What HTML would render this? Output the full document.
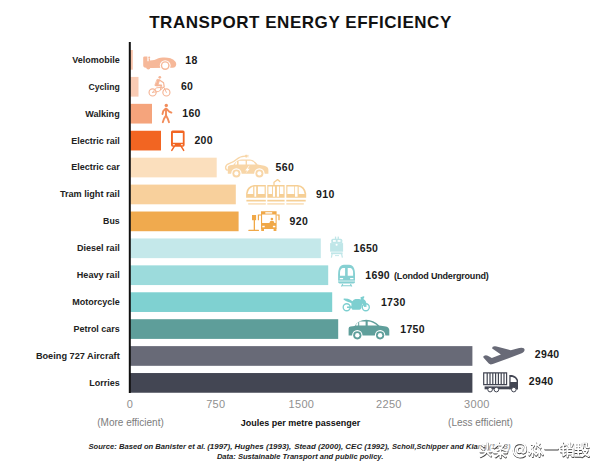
<!DOCTYPE html>
<html><head><meta charset="utf-8"><style>
html,body{margin:0;padding:0;background:#fff;}
body{width:602px;height:470px;overflow:hidden;position:relative;}
svg{position:absolute;left:0;top:0;}
text{font-family:"Liberation Sans",sans-serif;}
.title{font-size:17px;font-weight:bold;fill:#111;letter-spacing:0.55px;}
.lab{font-size:9.2px;font-weight:bold;fill:#222;}
.num{font-size:10.5px;font-weight:bold;fill:#1a1a1a;letter-spacing:0.35px;}
.sub{font-size:9px;font-weight:bold;letter-spacing:-0.2px;}
.tick{font-size:11px;fill:#909090;letter-spacing:0.3px;}
.eff{font-size:10px;fill:#7c7c7c;}
.jpm{font-size:9px;font-weight:bold;fill:#111;}
.src{font-size:7.65px;font-weight:bold;font-style:italic;fill:#1e1e1e;}
</style></head><body>
<svg width="602" height="470" viewBox="0 0 602 470">
<text class="title" x="300.5" y="28.3" text-anchor="middle">TRANSPORT ENERGY EFFICIENCY</text>
<rect x="130" y="50.00" width="2.80" height="19.7" fill="#f9c4aa"/>
<text class="lab" x="119.7" y="62.75" text-anchor="end" textLength="47.4" lengthAdjust="spacingAndGlyphs">Velomobile</text>
<text class="num" x="185.3" y="63.55">18</text>
<g fill="#f6b899">
<path d="M143.2,57.6 Q143.3,56.4 144.6,56.4 H147.4 V61.2 H148.6 V58.4 H150 V60.4 C153,60.4 155.8,59.6 157.8,58.4 C160.5,57.4 166.5,56.9 170.5,58.3 C174.5,59.9 176.6,62.5 176.2,64.8 C175.8,67 174.6,67.6 172.8,67.7 L150.5,68 C148,68.3 145,68 143.8,67 Q143.2,66.3 143.2,65.3 Z"/>
<circle cx="149.2" cy="57.4" r="1"/>
<circle cx="165.2" cy="65.6" r="5.4" fill="#fff"/>
<circle cx="165.2" cy="65.6" r="4.4"/>
<circle cx="165.2" cy="65.6" r="3" fill="#fff"/>
<path d="M146.2,67.6 Q146.4,69.6 148.3,69.6 Q150.2,69.6 150.4,67.6 Z"/>
</g>
<rect x="130" y="76.92" width="8.50" height="19.7" fill="#f9cbb4"/>
<text class="lab" x="119.7" y="89.67" text-anchor="end" textLength="31.2" lengthAdjust="spacingAndGlyphs">Cycling</text>
<text class="num" x="180.9" y="90.47">60</text>
<g fill="none" stroke="#f5b596" stroke-linecap="round" stroke-linejoin="round">
<circle cx="152.6" cy="92.4" r="3.55" stroke-width="1.15"/>
<circle cx="166.4" cy="92.4" r="3.55" stroke-width="1.15"/>
<path d="M152.6,92.4 L156.4,87.8 L163.8,87.2 L166.4,92.4 M152.6,92.4 L158.8,91.4 L163.8,87.2" stroke-width="0.95"/>
<path d="M157.4,79.4 L159.8,79.8 L157.6,85.8 L155.2,85.4 Z" fill="#f5b596" stroke-width="0.8"/>
<path d="M159.8,80.2 L163.6,82.8 L164.2,86.6" stroke-width="1.15"/>
<path d="M156,85.2 L161.2,85.4" stroke-width="1.9"/>
<path d="M161.2,85.6 L160.6,89.6" stroke-width="1.2"/>
<circle cx="159.8" cy="77.3" r="1.35" fill="#f5b596" stroke="none"/>
</g>
<rect x="130" y="103.84" width="22.00" height="19.7" fill="#f5a47c"/>
<text class="lab" x="119.7" y="116.59" text-anchor="end" textLength="34.4" lengthAdjust="spacingAndGlyphs">Walking</text>
<text class="num" x="182.2" y="117.39">160</text>
<g fill="none" stroke="#f28c5a" stroke-linecap="round" stroke-linejoin="round" stroke-width="1.9">
<circle cx="166.3" cy="105.4" r="1.7" fill="#f28c5a" stroke="none"/>
<path d="M166,108.6 L166,115.4"/>
<path d="M165.4,108.8 L163.2,111.2 L162.5,114"/>
<path d="M166.6,108.8 L169.2,111.6 L171.4,112.6"/>
<path d="M166,115.4 L164,118.8 L162.8,122.2"/>
<path d="M166,115.4 L167.8,118.8 L169,122.2"/>
</g>
<rect x="130" y="130.76" width="31.00" height="19.7" fill="#f26522"/>
<text class="lab" x="119.7" y="143.51" text-anchor="end" textLength="48.4" lengthAdjust="spacingAndGlyphs">Electric rail</text>
<text class="num" x="194.4" y="144.31">200</text>
<g fill="#f26522">
<path fill-rule="evenodd" d="M172.6,130.5 H183 Q184.6,130.5 184.6,132.1 V145 Q184.6,146.7 183,146.7 H172.6 Q171,146.7 171,145 V132.1 Q171,130.5 172.6,130.5 Z M172.9,133.1 V142.7 H182.8 V133.1 Z"/>
<rect x="172.9" y="144.2" width="1.9" height="1.1" fill="#fff"/>
<rect x="180.9" y="144.2" width="1.9" height="1.1" fill="#fff"/>
<path d="M174.3,146.4 L171.8,150.4 M181.2,146.4 L183.7,150.4" stroke="#f26522" stroke-width="1.5" stroke-linecap="round"/>
</g>
<rect x="130" y="157.68" width="86.70" height="19.7" fill="#fbdfbd"/>
<text class="lab" x="119.7" y="170.43" text-anchor="end" textLength="48.4" lengthAdjust="spacingAndGlyphs">Electric car</text>
<text class="num" x="275.5" y="171.23">560</text>
<g fill="#f8d6a8">
<path d="M227.8,173.8 V167.6 Q227.8,165.6 230,165.2 L233.4,164.8 Q237,159.6 242,159.6 H250 Q254,159.8 257.6,164.6 L264.4,165.8 Q268.4,166.8 268.4,170 V173.8 Z"/>
<path d="M234.8,164.6 L237,161 V164.6 Z M238.6,164.6 V160.8 H245.6 V164.6 Z M247,164.6 V160.8 H251 Q253.8,161.2 255.6,164.6 Z" fill="#fff"/>
<path d="M249,165.8 L245.2,170.4 H247.4 L245.6,173.6 L249.8,168.8 H247.6 L249.6,165.8 Z" fill="#fff"/>
<circle cx="236.4" cy="173.4" r="5.2" fill="#fff"/>
<circle cx="259.4" cy="173.4" r="5.2" fill="#fff"/>
<circle cx="236.4" cy="173.4" r="4"/>
<circle cx="259.4" cy="173.4" r="4"/>
<circle cx="236.4" cy="173.4" r="2.1" fill="#fff"/>
<circle cx="259.4" cy="173.4" r="2.1" fill="#fff"/>
<path d="M227.8,170.4 Q225.4,169.6 225.6,167.2 Q226,164.6 229.6,163.4 Q233.6,162 236.4,159.4 Q240,156.4 245.4,156.2" fill="none" stroke="#f8d6a8" stroke-width="1.35"/>
<rect x="245" y="154.8" width="2.6" height="2.6" rx="0.8"/>
<path d="M247.4,155.4 H248.8 M247.4,156.8 H248.8" stroke="#f8d6a8" stroke-width="0.6"/>
</g>
<rect x="130" y="184.60" width="105.80" height="19.7" fill="#f8d09c"/>
<text class="lab" x="119.7" y="197.35" text-anchor="end" textLength="59.8" lengthAdjust="spacingAndGlyphs">Tram light rail</text>
<text class="num" x="316.1" y="198.15">910</text>
<g fill="#f6cf95">
<path fill-rule="evenodd" d="M246.1,197.8 V193.4 Q246.6,186.4 254,185.1 H265.8 V197.8 Z
M247.5,194 Q248.4,188.4 253.2,186.5 V194 Z M254.4,186.5 V196.8 H256.2 V186.5 Z M257.9,186.5 V194 H264.6 V186.5 Z"/>
<path fill-rule="evenodd" d="M267.3,185.1 H284.6 V197.8 H267.3 Z
M268.4,186.5 V193.9 H272 V186.5 Z M272.9,186.5 V196.8 H275 V186.5 Z M276.9,186.5 V196.8 H279 V186.5 Z M279.8,186.5 V193.9 H283.4 V186.5 Z"/>
<path fill-rule="evenodd" d="M286.3,185.1 H297.6 Q305.2,186 306.2,193.6 V197.8 H286.3 Z
M287.4,186.5 V193.9 H294.3 V186.5 Z M295,186.5 V196.8 H297.6 V186.5 Z M298.7,186.6 Q303.6,188 304.6,194 H298.7 Z"/>
<path d="M274,184.8 V182.2 L277.6,179.6 L279.8,181.6" fill="none" stroke="#f6cf95" stroke-width="1.3" stroke-linejoin="round" stroke-linecap="round"/>
<rect x="246.4" y="199.8" width="19.4" height="1.7"/>
<rect x="267.3" y="199.8" width="17.3" height="1.7"/>
<rect x="286.3" y="199.8" width="19.4" height="1.7"/>
<rect x="248.2" y="203.2" width="17.6" height="1.4" opacity="0.75"/>
<rect x="267.3" y="203.2" width="17.3" height="1.4" opacity="0.75"/>
<rect x="286.3" y="203.2" width="17.5" height="1.4" opacity="0.75"/>
</g>
<rect x="130" y="211.52" width="108.60" height="19.7" fill="#f0aa4e"/>
<text class="lab" x="119.7" y="224.27" text-anchor="end" textLength="16.6" lengthAdjust="spacingAndGlyphs">Bus</text>
<text class="num" x="289.5" y="225.07">920</text>
<g fill="#f0a848">
<rect x="252" y="215" width="4.1" height="5.2"/>
<rect x="253.7" y="219.5" width="1.3" height="10.6"/>
<rect x="248.3" y="229.7" width="10.7" height="1.3" rx="0.5"/>
<path fill-rule="evenodd" d="M261,211.2 H276.6 V229 H261 Z M262.1,214.6 V223 H275.6 V214.6 Z"/>
<rect x="265.3" y="212.2" width="6.9" height="1.4" fill="#fff"/>
<rect x="262.3" y="225.8" width="2.4" height="1.5" fill="#fff"/>
<rect x="272.9" y="225.8" width="2.4" height="1.5" fill="#fff"/>
<rect x="261.2" y="228.6" width="2.8" height="2.4"/>
<rect x="273.6" y="228.6" width="2.8" height="2.4"/>
<path d="M261,215 H258.4 V220.2" fill="none" stroke="#f0a848" stroke-width="1.2"/>
<path d="M276.6,215 H279 V220.2" fill="none" stroke="#f0a848" stroke-width="1.2"/>
<circle cx="271.9" cy="219" r="1.3"/>
<path d="M269.4,223 Q269.6,220.8 271.9,220.8 Q274.2,220.8 274.4,223 Z"/>
</g>
<rect x="130" y="238.44" width="190.80" height="19.7" fill="#c4e8ea"/>
<text class="lab" x="119.7" y="251.19" text-anchor="end" textLength="42.8" lengthAdjust="spacingAndGlyphs">Diesel rail</text>
<text class="num" x="353.5" y="251.99">1650</text>
<g fill="#bfe6e8">
<rect x="334.9" y="236.6" width="1.3" height="2.4"/>
<rect x="337.6" y="236.6" width="1.3" height="2.4"/>
<path d="M331.3,243.2 V240.2 Q331.3,238.7 332.8,238.7 H340.8 Q342.3,238.7 342.3,240.2 V243.2 Z"/>
<rect x="333" y="240.1" width="2.8" height="1.7" fill="#fff"/>
<rect x="337.6" y="240.1" width="2.9" height="1.7" fill="#fff"/>
<rect x="330.1" y="243.1" width="13" height="8.6"/>
<circle cx="336.6" cy="244.8" r="1.05" fill="#fff"/>
<rect x="331" y="252.4" width="11.6" height="1.8"/>
<path d="M332.1,254 L331.4,257.6 M341.6,254 L342.4,257.6" stroke="#bfe6e8" stroke-width="1.2"/>
<rect x="335" y="255.2" width="4" height="0.9"/>
</g>
<rect x="130" y="265.36" width="198.20" height="19.7" fill="#9cdbdc"/>
<text class="lab" x="119.7" y="278.11" text-anchor="end" textLength="42.9" lengthAdjust="spacingAndGlyphs">Heavy rail</text>
<text class="num" x="365.3" y="278.91">1690<tspan class="sub" dx="4">(Londod Underground)</tspan></text>
<g fill="#86d0d2">
<path d="M338.1,282 V274 Q338.1,267.6 341.4,265.4 Q342.4,264.8 344,264.8 H349.2 Q350.8,264.8 351.8,265.4 Q355,267.6 355,274 V282 Q355,283.4 353.4,283.4 H339.6 Q338.1,283.4 338.1,282 Z"/>
<path d="M340,275.7 V272.4 Q340.2,268.6 342.8,268 H345.1 V275.7 Z M347.7,268 H350.4 Q353,268.6 353.1,272.4 V275.7 H347.7 Z" fill="#fff"/>
<rect x="339.7" y="277.9" width="3.5" height="1.4" rx="0.6" fill="#fff"/>
<rect x="350" y="277.9" width="3.5" height="1.4" rx="0.6" fill="#fff"/>
<rect x="338.1" y="280.4" width="16.9" height="1.3" fill="#fff" opacity="0.55"/>
<path d="M342.8,284 L341.4,286.6 M350.4,284 L351.8,286.6 M341.6,285.8 H351.6" stroke="#86d0d2" stroke-width="1.1" fill="none"/>
</g>
<rect x="130" y="292.28" width="202.20" height="19.7" fill="#7fd1d1"/>
<text class="lab" x="119.7" y="305.03" text-anchor="end" textLength="47.5" lengthAdjust="spacingAndGlyphs">Motorcycle</text>
<text class="num" x="380.9" y="305.83">1730</text>
<g fill="#7dcfd0">
<circle cx="346.7" cy="307.2" r="3.5" fill="none" stroke="#7dcfd0" stroke-width="1.35"/>
<circle cx="365.8" cy="307.2" r="3.5" fill="none" stroke="#7dcfd0" stroke-width="1.35"/>
<path d="M343.4,299 Q343.5,298.4 344.2,298.4 L347.9,298.7 Q350.4,299.6 352.4,301.2 Q353.4,299.4 355.6,299.1 L358.9,299 Q360.4,299.1 361,299.6 L360.4,297.6 Q360.6,296.9 361.3,296.9 L363.7,296.3 Q364.6,296.4 364.3,297.3 L363.4,299 Q365.4,300 366.1,302 L366.6,306.8 L364.3,307 L362.2,303.6 Q361.8,306 361.4,308 Q360.8,309.7 359.5,309.7 H353 Q351.8,309.7 351.6,308.2 L347,308.1 V306.6 L351.4,306.2 L351.4,303.2 Q349.8,302.4 348.2,302 Q345.6,301 343.8,299.8 Z"/>
</g>
<rect x="130" y="319.20" width="208.20" height="19.7" fill="#5e9e9a"/>
<text class="lab" x="119.7" y="331.95" text-anchor="end" textLength="46.2" lengthAdjust="spacingAndGlyphs">Petrol cars</text>
<text class="num" x="400.2" y="332.75">1750</text>
<g fill="#5f9f9b">
<path d="M348.6,335.6 V328.4 Q348.6,326.8 350.6,326.6 L354.6,326 Q358.6,319.8 366.2,319.8 Q373.6,319.9 379.2,325.6 L386,326.4 Q389.3,327.2 389.3,330.4 V335.6 Z"/>
<path d="M355.4,325.6 L358.2,322 V325.6 Z M359.2,325.6 V321.4 H365.6 V325.6 Z M367.7,325.6 V321.4 Q373.2,321.6 377.2,325.6 Z" fill="#fff"/>
<circle cx="357.3" cy="335.3" r="5.2" fill="#fff"/>
<circle cx="380.1" cy="335.3" r="5.2" fill="#fff"/>
<circle cx="357.3" cy="335.3" r="4.1"/>
<circle cx="380.1" cy="335.3" r="4.1"/>
<circle cx="357.3" cy="335.3" r="2.2" fill="#fff"/>
<circle cx="380.1" cy="335.3" r="2.2" fill="#fff"/>
</g>
<rect x="130" y="346.12" width="342.40" height="19.7" fill="#686a77"/>
<text class="lab" x="119.7" y="358.87" text-anchor="end" textLength="83.8" lengthAdjust="spacingAndGlyphs">Boeing 727 Aircraft</text>
<text class="num" x="534.8" y="358.27">2940</text>
<path fill="#686a77" d="M492.2,348.6 Q491.8,346.4 494.6,346.2 Q495.6,346.1 496.6,346.4 L510.8,350.2 L519.2,347.9 Q524.4,346.9 524.6,349.8 Q524.6,352.2 520.4,353.8 L492.8,364 Q490,365 488.8,363.6 L483.6,357.8 Q482.6,356 485,355.4 Q486.6,355.1 487.8,355.8 L491.8,358 L500.9,354.6 Z"/>
<rect x="130" y="373.04" width="342.40" height="19.7" fill="#434653"/>
<text class="lab" x="119.7" y="385.79" text-anchor="end" textLength="30.5" lengthAdjust="spacingAndGlyphs">Lorries</text>
<text class="num" x="528.8" y="385.19">2940</text>
<g fill="#434653">
<path fill-rule="evenodd" d="M483.1,372.2 H507.2 V385.2 H483.1 Z M484.3,373.4 V384 H506 V373.4 Z"/>
<rect x="486.6" y="373" width="1.2" height="11.5"/>
<rect x="489.4" y="373" width="1.2" height="11.5"/>
<rect x="492.2" y="373" width="1.2" height="11.5"/>
<rect x="495" y="373" width="1.2" height="11.5"/>
<rect x="497.8" y="373" width="1.2" height="11.5"/>
<rect x="500.6" y="373" width="1.2" height="11.5"/>
<rect x="503.4" y="373" width="1.2" height="11.5"/>
<path fill-rule="evenodd" d="M509.3,375 H512 Q516.6,376 518,380 V389.2 H509.3 Z M510.6,377 V382 H516.6 V380.6 Q515.6,377.6 512.4,377 Z"/>
<rect x="484.6" y="386.4" width="33.4" height="2.9"/>
<circle cx="490.1" cy="389.6" r="2.3" fill="#fff" stroke="#434653" stroke-width="1"/>
<circle cx="496.4" cy="389.6" r="2.3" fill="#fff" stroke="#434653" stroke-width="1"/>
<circle cx="513.8" cy="389.6" r="2.3" fill="#fff" stroke="#434653" stroke-width="1"/>
</g>
<rect x="128.8" y="42" width="2" height="351" fill="#111"/>
<text class="tick" x="130" y="408.2" text-anchor="middle">0</text>
<text class="tick" x="215.8" y="408.2" text-anchor="middle">750</text>
<text class="tick" x="301.4" y="408.2" text-anchor="middle">1500</text>
<text class="tick" x="388.9" y="408.2" text-anchor="middle">2250</text>
<text class="tick" x="476.9" y="408.2" text-anchor="middle">3000</text>
<text class="eff" x="130.5" y="426" text-anchor="middle">(More efficient)</text>
<text class="jpm" x="300.6" y="426" text-anchor="middle">Joules per metre passenger</text>
<text class="eff" x="480.5" y="426" text-anchor="middle">(Less efficient)</text>
<text class="src" y="448.5" x="88.4" textLength="117" lengthAdjust="spacingAndGlyphs">Source: Based on Banister et al.</text>
<text class="src" y="448.5" x="207.2" textLength="84" lengthAdjust="spacingAndGlyphs">(1997), Hughes (1993),</text>
<text class="src" y="448.5" x="294.2" textLength="95.3" lengthAdjust="spacingAndGlyphs">Stead (2000), CEC (1992),</text>
<text class="src" y="448.5" x="392" textLength="118.5" lengthAdjust="spacingAndGlyphs">Scholl,Schipper and Kiang (1993)</text>
<text class="src" x="216.9" y="459.3" textLength="166.5" lengthAdjust="spacingAndGlyphs">Data: Sustainable Transport and public policy.</text>
<rect x="478.2" y="440" width="34" height="12" fill="#fff" opacity="0.55"/>
<g fill="none" stroke-linecap="round" stroke-linejoin="round">
<g stroke="#2a2a2a" stroke-width="2.0" transform="translate(0.3,0.8)" opacity="0.9"><path transform="translate(480,442.2) scale(1.0)" d="M2,2.6 L3.8,4.2 M1.6,5.8 L3.6,7.4 M0.4,9.4 H11.2 M7.2,0.6 V6.6 Q6.8,11.6 0.6,14.2 M7.6,10.6 L10.8,13.6"/>
<path transform="translate(493,442.2) scale(1.06)" d="M5.4,0.4 Q4,3 1.2,5 M4.6,2.4 H10 Q8,6 2.4,8.4 M5.6,4.6 Q9,7.4 13.4,8.2 M1,9.8 H13 M7,7.6 V14.4 M6,10.8 L2.4,13.6 M8.2,10.8 L11.8,13.6"/>
<path transform="translate(512.6,442.4) scale(1.0)" d="M9.6,6 Q9,4.2 7.2,4.2 Q4.6,4.4 4.6,7.6 Q4.8,10 6.8,10 Q9,9.8 9.6,6 L9.2,9.2 Q9.4,10.6 11,10.4 Q13.4,9.6 13.2,6.6 Q12.8,1 7.4,0.8 Q1,1 0.8,7.6 Q1,14 7.2,14.4 Q10.2,14.4 12,13"/>
<path transform="translate(528.8,442.2) scale(1.0)" d="M7,0.2 V5.8 M2.8,2 H5.6 L3,5.8 M8.4,2.6 L11.6,5.4 M10.6,1.4 L9,3 M3.8,7.2 V14 M0.4,9 H2.6 L0.4,12.6 M4.8,9.2 L6.8,12.4 M10.4,7.2 V14 M7.6,9 H9.6 L7.4,12.6 M11.4,9.2 L13.8,12.4"/>
<path transform="translate(543.8,442.2) scale(1.0)" d="M1.2,6.4 H13.8"/>
<path transform="translate(560.2,442.2) scale(1.0)" d="M2.6,0.4 L0.6,4 M1.6,2.8 H5 M1,6.2 H5 M0.6,9.4 H5 M3,3 V13.4 L5.2,11.8 M9.6,0.4 V5 M7.4,1.8 L8.2,4.2 M12.2,1.4 L11.4,4 M7.2,6.2 V14.4 M7.2,6.2 H12.8 V14 L11.6,13.6 M7.2,9 H12.8 M7.2,11.6 H12.8"/>
<path transform="translate(574.6,442.2) scale(1.0)" d="M1,1.4 V7 H6.4 V1.4 Z M3.7,1 V7 M1,4.2 H6.4 M0.6,10 H6.6 M3.6,8 V13.6 M0.4,13.8 H6.8 L8,13 M8.4,0.8 V3.6 Q8.4,5.6 7.4,6.4 M8.4,0.8 H11.8 V4.6 Q12,5.6 13.8,5.2 M8,8 H12.8 Q11.4,12 7.4,14.2 M8.8,9.6 Q10.6,12.6 14,14"/></g>
<g stroke="#ffffff" stroke-width="1.7"><path transform="translate(480,442.2) scale(1.0)" d="M2,2.6 L3.8,4.2 M1.6,5.8 L3.6,7.4 M0.4,9.4 H11.2 M7.2,0.6 V6.6 Q6.8,11.6 0.6,14.2 M7.6,10.6 L10.8,13.6"/>
<path transform="translate(493,442.2) scale(1.06)" d="M5.4,0.4 Q4,3 1.2,5 M4.6,2.4 H10 Q8,6 2.4,8.4 M5.6,4.6 Q9,7.4 13.4,8.2 M1,9.8 H13 M7,7.6 V14.4 M6,10.8 L2.4,13.6 M8.2,10.8 L11.8,13.6"/>
<path transform="translate(512.6,442.4) scale(1.0)" d="M9.6,6 Q9,4.2 7.2,4.2 Q4.6,4.4 4.6,7.6 Q4.8,10 6.8,10 Q9,9.8 9.6,6 L9.2,9.2 Q9.4,10.6 11,10.4 Q13.4,9.6 13.2,6.6 Q12.8,1 7.4,0.8 Q1,1 0.8,7.6 Q1,14 7.2,14.4 Q10.2,14.4 12,13"/>
<path transform="translate(528.8,442.2) scale(1.0)" d="M7,0.2 V5.8 M2.8,2 H5.6 L3,5.8 M8.4,2.6 L11.6,5.4 M10.6,1.4 L9,3 M3.8,7.2 V14 M0.4,9 H2.6 L0.4,12.6 M4.8,9.2 L6.8,12.4 M10.4,7.2 V14 M7.6,9 H9.6 L7.4,12.6 M11.4,9.2 L13.8,12.4"/>
<path transform="translate(543.8,442.2) scale(1.0)" d="M1.2,6.4 H13.8"/>
<path transform="translate(560.2,442.2) scale(1.0)" d="M2.6,0.4 L0.6,4 M1.6,2.8 H5 M1,6.2 H5 M0.6,9.4 H5 M3,3 V13.4 L5.2,11.8 M9.6,0.4 V5 M7.4,1.8 L8.2,4.2 M12.2,1.4 L11.4,4 M7.2,6.2 V14.4 M7.2,6.2 H12.8 V14 L11.6,13.6 M7.2,9 H12.8 M7.2,11.6 H12.8"/>
<path transform="translate(574.6,442.2) scale(1.0)" d="M1,1.4 V7 H6.4 V1.4 Z M3.7,1 V7 M1,4.2 H6.4 M0.6,10 H6.6 M3.6,8 V13.6 M0.4,13.8 H6.8 L8,13 M8.4,0.8 V3.6 Q8.4,5.6 7.4,6.4 M8.4,0.8 H11.8 V4.6 Q12,5.6 13.8,5.2 M8,8 H12.8 Q11.4,12 7.4,14.2 M8.8,9.6 Q10.6,12.6 14,14"/></g>
</g>
</svg>
</body></html>
